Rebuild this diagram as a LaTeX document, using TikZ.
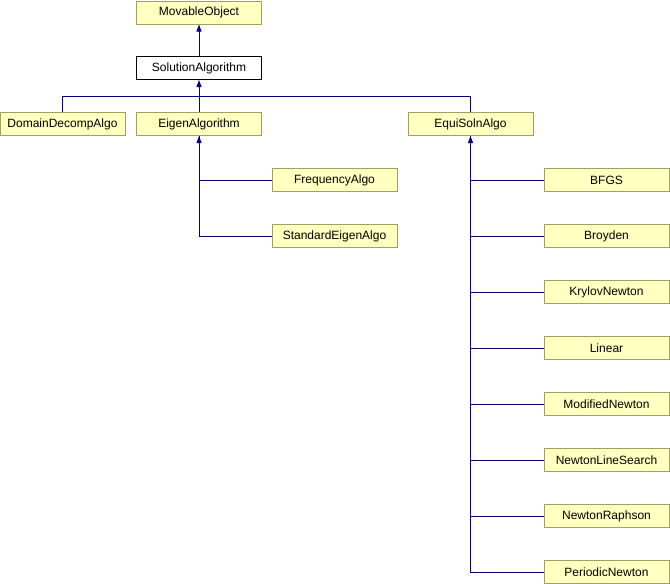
\documentclass[tikz,border=0pt]{standalone}
\usepackage{fontspec}
\setmainfont{Liberation Sans}
\usepackage{tikz}
\usepackage{xcolor}
\usetikzlibrary{arrows.meta}
\definecolor{box-fill}{RGB}{255,255,192}
\definecolor{box-edge}{RGB}{160,160,96}
\definecolor{link-blue}{RGB}{0,0,128}
\tikzset{
    class-box/.style = {draw=box-edge, fill=box-fill, line width=1pt, rectangle, minimum width=125pt, minimum height=23pt, inner sep=0pt, font=\fontsize{12}{14}\selectfont},
    class-box-current/.style = {class-box, draw=black, fill=white},
    inherit/.style = {draw=link-blue, line width=1pt},
    inherit-tip/.style = {inherit, -{Triangle[width=5pt,length=7pt]}},
}
\begin{document}
\begin{tikzpicture}[x=1pt, y=1pt]
\useasboundingbox (0,0) rectangle (670,-584);
\node [class-box] (movable) at (199,-12.5) {MovableObject};
\node [class-box-current] (solution) at (199,-68) {SolutionAlgorithm};
\node [class-box] (domain) at (62.5,-124) {DomainDecompAlgo};
\node [class-box] (eigen) at (199,-124) {EigenAlgorithm};
\node [class-box] (equi) at (470.5,-124) {EquiSolnAlgo};
\node [class-box] (frequency) at (334.5,-180) {FrequencyAlgo};
\node [class-box] (standard) at (334.5,-236) {StandardEigenAlgo};
\foreach \name [count=\i from 0] in {BFGS, Broyden, KrylovNewton, Linear, ModifiedNewton, NewtonLineSearch, NewtonRaphson, PeriodicNewton}
    \node [class-box] (equi-\i) at (606.5,-180-56*\i) {\name};
\coordinate (bus) at (199,-96);
\draw [inherit-tip] (solution.north) -- (movable.south);
\draw [inherit-tip] (bus) -- (solution.south);
\draw [inherit] (domain.north) |- (bus);
\draw [inherit] (eigen.north) -- (bus);
\draw [inherit] (equi.north) |- (bus);
\draw [inherit-tip] (standard.west) -| (eigen.south);
\draw [inherit] (frequency.west) -| (eigen.south);
\draw [inherit-tip] (equi-7.west) -| (equi.south);
\foreach \i in {0,...,6}
    \draw [inherit] (equi-\i.west) -| (equi.south);
\end{tikzpicture}
\end{document}
